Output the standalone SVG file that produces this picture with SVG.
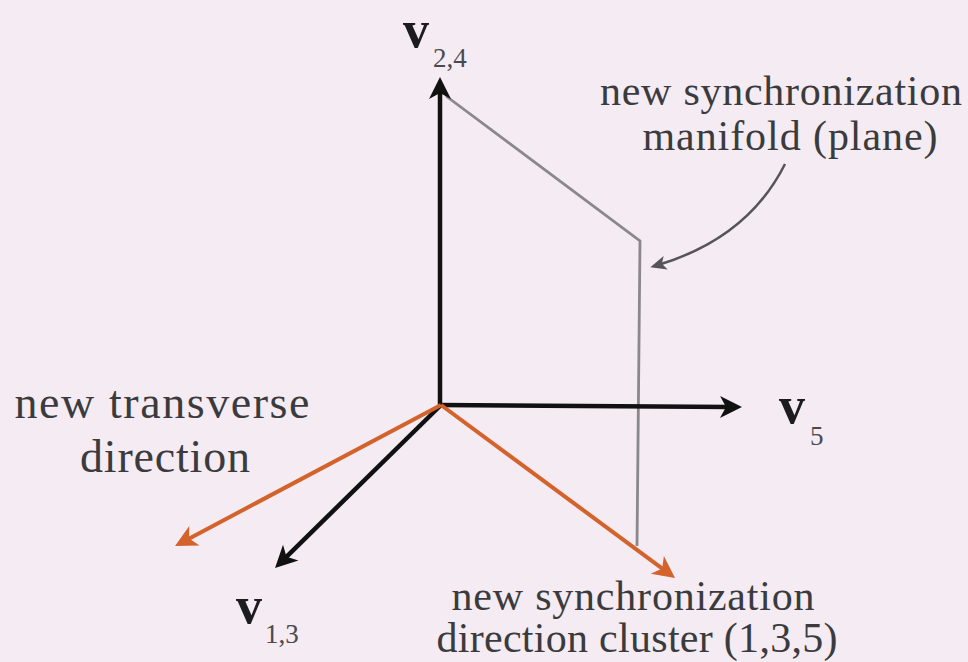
<svg xmlns="http://www.w3.org/2000/svg" width="968" height="662" viewBox="0 0 968 662">
<defs>
<style>
.lbl{font-family:"Liberation Serif","Times New Roman",serif;fill:#3b3b3d;font-size:42px}
.vec{font-family:"Liberation Serif","Times New Roman",serif;fill:#1c1c1e;font-weight:bold;font-size:52px}
.sub{font-family:"Liberation Serif","Times New Roman",serif;fill:#4a4a4c;font-size:27px}
.ax{fill:none;stroke:#111;stroke-width:4.5}
.or{fill:none;stroke:#d4622b;stroke-width:4}
.pl{fill:none;stroke:#8a888c;stroke-width:2.8}
</style>
<marker id="hb" viewBox="-12 -13 26 26" refX="0" refY="0" markerWidth="26" markerHeight="26" markerUnits="userSpaceOnUse" orient="auto">
<path d="M12,0 L-10,-11 L-4,0 L-10,11 Z" fill="#111"/>
</marker>
<marker id="ho" viewBox="-12 -13 26 26" refX="0" refY="0" markerWidth="26" markerHeight="26" markerUnits="userSpaceOnUse" orient="auto">
<path d="M12,0 L-10,-11 L-4,0 L-10,11 Z" fill="#d4622b"/>
</marker>
<marker id="hg" viewBox="-10 -9 20 18" refX="0" refY="0" markerWidth="20" markerHeight="18" markerUnits="userSpaceOnUse" orient="auto">
<path d="M8,0 L-8,-7 L-4,0 L-8,7 Z" fill="#555457"/>
</marker>
</defs>
<rect width="968" height="662" fill="#f4ebf3"/>
<g id="plane">
<polyline class="pl" points="446,96 640,241 637,546"/>
</g>
<g id="connectors">
<line class="ax" x1="440" y1="407" x2="440" y2="89" marker-end="url(#hb)"/>
<line class="ax" x1="438" y1="405" x2="730" y2="407" marker-end="url(#hb)"/>
<line class="ax" x1="441" y1="405" x2="283.6" y2="559.6" marker-end="url(#hb)"/>
<line class="or" x1="441" y1="405" x2="185.6" y2="540.4" marker-end="url(#ho)"/>
<line class="or" x1="441" y1="405" x2="665.4" y2="570.9" marker-end="url(#ho)"/>
<path d="M785,164 Q748,238 658,265" fill="none" stroke="#555457" stroke-width="2.5" marker-end="url(#hg)"/>
</g>
<g id="v24">
<text class="vec" x="403" y="47">v</text>
<text class="sub" x="433" y="67">2,4</text>
</g>
<g id="v5">
<text class="vec" x="779" y="423">v</text>
<text class="sub" x="810" y="445">5</text>
</g>
<g id="v13">
<text class="vec" x="236" y="623">v</text>
<text class="sub" x="265" y="643">1,3</text>
</g>
<g id="label-manifold">
<text class="lbl" x="781" y="105" text-anchor="middle" textLength="362" lengthAdjust="spacing">new synchronization</text>
<text class="lbl" x="790" y="150" text-anchor="middle" textLength="295" lengthAdjust="spacing">manifold (plane)</text>
</g>
<g id="label-transverse">
<text class="lbl" x="162" y="418" text-anchor="middle" textLength="295" lengthAdjust="spacing" style="font-size:46px">new transverse</text>
<text class="lbl" x="165" y="472" text-anchor="middle" textLength="170" lengthAdjust="spacing" style="font-size:46px">direction</text>
</g>
<g id="label-cluster">
<text class="lbl" x="633" y="610" text-anchor="middle" textLength="363" lengthAdjust="spacing">new synchronization</text>
<text class="lbl" x="637" y="652" text-anchor="middle" textLength="401" lengthAdjust="spacing">direction cluster (1,3,5)</text>
</g>
</svg>
